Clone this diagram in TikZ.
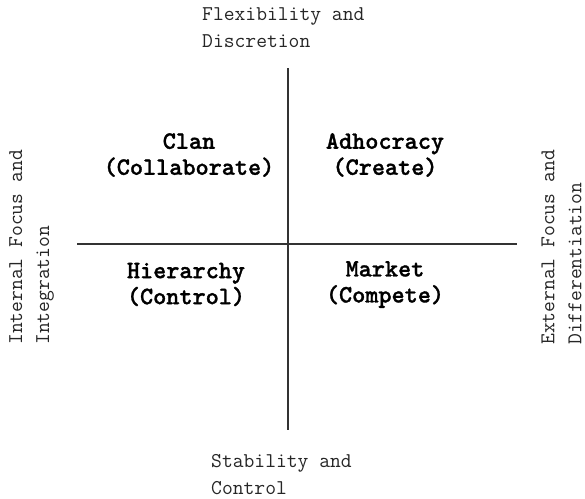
\documentclass[tikz,border=0pt]{standalone}
\usepackage{fontspec}
\newfontfamily\quadfont{lmmonolt10-bold.otf}[FakeBold=1.2]
\begin{document}
\begin{tikzpicture}[x=1pt,y=-1pt,
  axislab/.style={font=\ttfamily\fontsize{21}{27}\selectfont, align=left, inner sep=0pt, text=black!85},
  quad/.style={font=\quadfont\fontsize{25}{26}\selectfont, align=center, inner sep=0pt},
  axisline/.style={line width=1.3pt, draw=black!80}]
\useasboundingbox (0,0) rectangle (585,498);
\coordinate (vt) at (288,68);
\coordinate (vb) at (288,430);
\coordinate (hl) at (77,244);
\coordinate (hr) at (517,244);
\draw[axisline] (vt) -- (vb);
\draw[axisline] (hl) -- (hr);
\node[axislab, anchor=west] (top) at (202,27.5) {Flexibility and\\Discretion};
\node[axislab, anchor=west] (bot) at (211,474.5) {Stability and\\Control};
\node[axislab, rotate=90, anchor=west] (left) at (31.5,345) {Internal Focus and\\Integration};
\node[axislab, rotate=90, anchor=west] (right) at (561.5,345) {External Focus and\\Differentiation};
\node[quad] (clan) at (189,155) {Clan\\(Collaborate)};
\node[quad] (adho) at (385,155) {Adhocracy\\(Create)};
\node[quad] (hier) at (186,284.5) {Hierarchy\\(Control)};
\node[quad] (mark) at (385,284.5) {Market\\(Compete)};
\end{tikzpicture}
\end{document}
